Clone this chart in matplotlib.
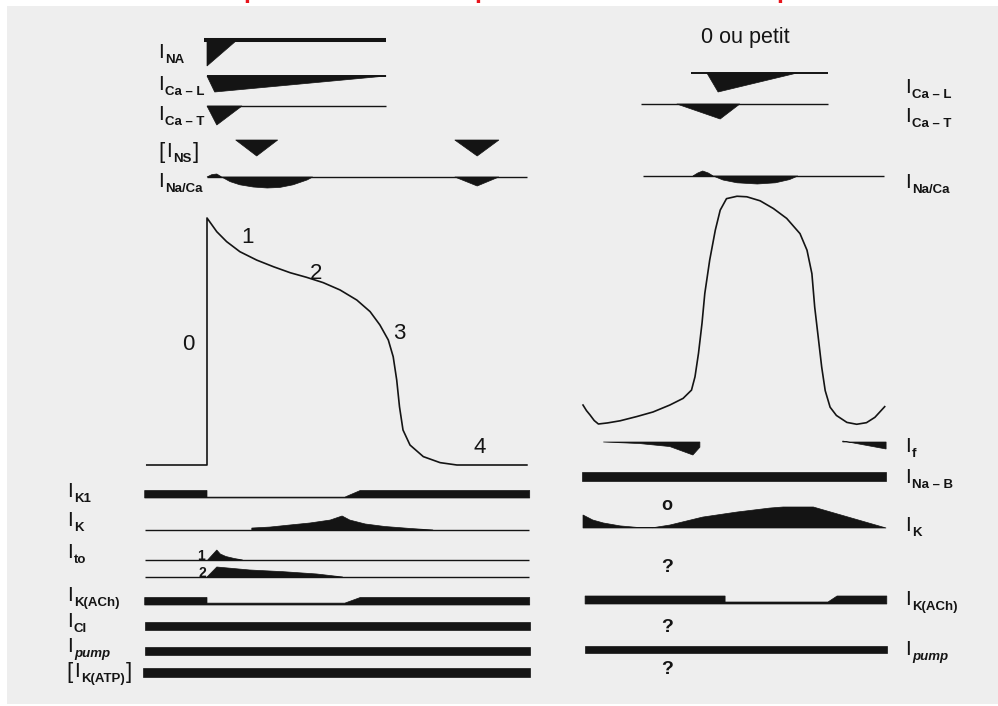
"""
Potentiels d'action ventriculaire et nodal, avec les courants ioniques associés.
"""

import numpy as np
import matplotlib
matplotlib.use('Agg')
import matplotlib.pyplot as plt
from matplotlib.patches import Rectangle

plt.rcParams['font.family'] = ['Liberation Sans', 'DejaVu Sans']

INK = '#141414'

# --- potentiel d'action ventriculaire (ms, mV) ---
va_t = [-86, 0, 0, 14, 28, 47, 71, 95, 119, 142, 166, 190, 214, 233, 247, 259,
        266, 271, 275, 280, 290, 309, 333, 357, 457]
va_v = [-85, -85, 30, 23.6, 19.0, 14.3, 10.4, 7.3, 4.5, 2.4, -0.1, -3.5, -8.2,
        -13.6, -19.8, -26.8, -34.6, -45.4, -57.9, -68.7, -75.7, -81.1, -83.9, -85, -85]
phases = ['0', '1', '2', '3', '4']
phase_t = [-26, 58, 156, 274, 390]
phase_v = [-29, 21, 4, -24, -77]

# --- potentiel d'action nodal (ms, mV) ---
sa_t = [0, 5, 10, 16, 22, 35, 53, 77, 100, 124, 143, 155, 160, 165, 170, 174, 181,
        189, 196, 205, 220, 234, 253, 272, 291, 310, 320, 327, 331, 336, 341, 346,
        353, 362, 377, 391, 405, 417, 431]
sa_v = [-57.9, -60, -61.6, -63.7, -65, -64.6, -63.8, -62.2, -60.5, -57.9, -55.4,
        -52.3, -47.3, -38.5, -27.3, -16.1, -3.6, 7.6, 15.1, 19.4, 20.3, 20.1, 18.6,
        15.7, 12, 6.3, 0.1, -8.7, -21.2, -32.4, -43.7, -52.5, -58.7, -61.8, -64.4,
        -65.1, -64.5, -62.5, -58.5]

# --- courants, cellule ventriculaire (ms, amplitude relative) ---
na_t, na_amp = [0, 0, 43], [0, -1, 0]
cal_t, cal_amp = [0, 11, 256], [0, -1, 0]
cat_t, cat_amp = [0, 14, 50], [0, -1, 0]
ns1_t, ns2_t, ns_amp = [41, 71, 101], [354, 386, 417], [0, -1, 0]
naca_bump_t, naca_bump_amp = [0, 7, 14, 21], [0, 0.8, 1, 0]
naca_arc_t = [21, 33, 47, 66, 86, 104, 123, 143, 151]
naca_arc_amp = [0, -0.42, -0.71, -0.91, -1, -0.95, -0.71, -0.27, 0]
naca2_t, naca2_amp = [354, 386, 417], [0, -1, 0]

k1_t, k1_amp = [-89, 0, 0, 197, 219, 461], [1, 1, 0.12, 0.12, 1, 1]
ik_t = [64, 64, 90, 119, 147, 176, 193, 204, 226, 254, 290, 323]
ik_amp = [0, 0.14, 0.21, 0.36, 0.5, 0.71, 1, 0.71, 0.43, 0.25, 0.11, 0]
to1_t, to1_amp = [1, 14, 19, 27, 39, 51], [0, 1, 0.6, 0.35, 0.15, 0]
to2_t, to2_amp = [0, 14, 61, 109, 157, 194], [0, 1, 0.7, 0.53, 0.3, 0]
kach_t, kach_amp = [-89, 0, 0, 197, 219, 461], [1, 1, 0.25, 0.25, 1, 1]
cl_t, cl_amp = [-89, 461], [1, 1]
pump_t, pump_amp = [-89, 461], [1, 1]
katp_t, katp_amp = [-92, 461], [1, 1]

# --- courants, cellule nodale ---
cal_r_t, cal_r_amp = [177, 193, 306], [0, -1, 0]
cat_r_t, cat_r_amp = [134, 196, 224], [0, -1, 0]
naca_r_bump_t, naca_r_bump_amp = [157, 164, 171, 179, 186], [0, 0.6, 1, 0.6, 0]
naca_r_arc_t = [186, 200, 220, 249, 275, 295, 307]
naca_r_arc_amp = [0, -0.5, -0.85, -1, -0.85, -0.45, 0]
if1_t, if1_amp = [29, 81, 124, 157, 167, 167], [0, -0.12, -0.35, -1, -0.4, 0]
if2_t, if2_amp = [371, 433, 433], [0.125, -0.875, 0]
nab_t, nab_amp = [-1, 433], [1, 1]
ik_r_t = [0, 14, 29, 53, 77, 100, 124, 171, 220, 267, 286, 329, 433]
ik_r_amp = [0.62, 0.38, 0.24, 0.1, 0.03, 0.015, 0.14, 0.52, 0.76, 0.95, 1, 1, 0]
kach_r_t, kach_r_amp = [3, 203, 203, 350, 363, 434], [1, 1, 0.25, 0.25, 1, 1]
pump_r_t, pump_r_amp = [3, 434], [1, 1]

# échelles des deux panneaux (ms -> px, mV -> px)
LEFT = dict(x0=207, k=0.7, v_ref=-85, v_y0=465, v_k=2.148)
RIGHT = dict(x0=583, k=0.7, v_ref=-65, v_y0=424, v_k=2.67)


def px(panel, t):
    return panel['x0'] + panel['k'] * np.asarray(t, float)


def vy(panel, v):
    return panel['v_y0'] - (np.asarray(v, float) - panel['v_ref']) * panel['v_k']


fig = plt.figure(figsize=(9.98, 7.06), dpi=100)
ax = fig.add_axes([0, 0, 1, 1])
ax.set_xlim(0, 998)
ax.set_ylim(706, 0)
ax.axis('off')
ax.add_patch(Rectangle((7, 6), 991, 698, fc='#eeeeee', ec='none', zorder=0))
renderer = fig.canvas.get_renderer()


def current(panel, t, amp, row, scale):
    x = px(panel, t)
    y = row - np.asarray(amp, float) * scale
    ax.fill(np.r_[x, x[-1], x[0]], np.r_[y, row, row], fc=INK, ec=INK,
            lw=0.5, zorder=3)


def baseline(panel, t0, t1, row, lw=1.0):
    ax.plot(px(panel, [t0, t1]), [row, row], color=INK, lw=lw,
            solid_capstyle='butt', zorder=2)


def label(x, y, sub, italic=False, bracket=False):
    xi = x
    if bracket:
        ax.text(x, y + 1, '[', fontsize=16, va='baseline', color=INK)
        xi = x + 8
    ax.text(xi, y, 'I', fontsize=15, va='baseline', color=INK)
    s = ax.annotate(sub, (xi, y), xytext=(5, -3.6), textcoords='offset points',
                    fontsize=9.5, fontweight='bold', va='baseline', color=INK,
                    style='italic' if italic else 'normal')
    if bracket:
        bb = s.get_window_extent(renderer)
        x_end = ax.transData.inverted().transform((bb.x1, bb.y0))[0]
        ax.text(x_end + 1, y + 1, ']', fontsize=16, va='baseline', color=INK)


# traces de potentiel
ax.plot(px(LEFT, va_t), vy(LEFT, va_v), color=INK, lw=1.2, zorder=3)
ax.plot(px(RIGHT, sa_t), vy(RIGHT, sa_v), color=INK, lw=1.2, zorder=3)
for s, t, v in zip(phases, phase_t, phase_v):
    ax.text(px(LEFT, t), vy(LEFT, v), s, fontsize=16, ha='center', va='center', color=INK)

# panneau gauche, haut
baseline(LEFT, -4, 256, 40, lw=2.9)
current(LEFT, na_t, na_amp, 40, 26)
baseline(LEFT, 0, 256, 76, lw=1.4)
current(LEFT, cal_t, cal_amp, 76, 16)
baseline(LEFT, 0, 256, 106)
current(LEFT, cat_t, cat_amp, 106, 19)
current(LEFT, ns1_t, ns_amp, 140, 16)
current(LEFT, ns2_t, ns_amp, 140, 16)
baseline(LEFT, 0, 457, 177)
current(LEFT, naca_bump_t, naca_bump_amp, 177, 3)
current(LEFT, naca_arc_t, naca_arc_amp, 177, 11)
current(LEFT, naca2_t, naca2_amp, 177, 9)

# panneau gauche, bas
current(LEFT, k1_t, k1_amp, 498, 7.5)
baseline(LEFT, -89, 460, 530)
current(LEFT, ik_t, ik_amp, 530, 14)
baseline(LEFT, -89, 460, 560)
current(LEFT, to1_t, to1_amp, 560, 10)
baseline(LEFT, -89, 460, 577)
current(LEFT, to2_t, to2_amp, 577, 10)
ax.text(205, 560, '1', fontsize=10, fontweight='bold', ha='right', va='baseline', color=INK)
ax.text(206, 577, '2', fontsize=10, fontweight='bold', ha='right', va='baseline', color=INK)
current(LEFT, kach_t, kach_amp, 605, 7.5)
current(LEFT, cl_t, cl_amp, 630, 8)
current(LEFT, pump_t, pump_amp, 655, 8)
current(LEFT, katp_t, katp_amp, 677, 9)

# panneau droit
baseline(RIGHT, 154, 350, 73, lw=1.4)
current(RIGHT, cal_r_t, cal_r_amp, 73, 19)
baseline(RIGHT, 83, 350, 104)
current(RIGHT, cat_r_t, cat_r_amp, 104, 15)
baseline(RIGHT, 86, 430, 176)
current(RIGHT, naca_r_bump_t, naca_r_bump_amp, 176, 5)
current(RIGHT, naca_r_arc_t, naca_r_arc_amp, 176, 8)
current(RIGHT, if1_t, if1_amp, 442, 13)
current(RIGHT, if2_t, if2_amp, 442, 8)
current(RIGHT, nab_t, nab_amp, 481, 9)
current(RIGHT, ik_r_t, ik_r_amp, 528, 21)
current(RIGHT, kach_r_t, kach_r_amp, 604, 8)
current(RIGHT, pump_r_t, pump_r_amp, 653, 7)

ax.text(745, 37, '0 ou petit', fontsize=15.5, ha='center', va='center', color=INK)
ax.text(667, 506, 'o', fontsize=13, fontweight='bold', ha='center', va='center', color=INK)
for yq in (567, 627, 670):
    ax.text(667, yq, '?', fontsize=14, fontweight='bold', ha='center', va='center', color=INK)

# étiquettes
for sub, y, kw in [('NA', 58, {}), ('Ca – L', 90, {}), ('Ca – T', 120, {}),
                   ('NS', 157, {'bracket': True}), ('Na/Ca', 187, {})]:
    label(158, y, sub, **kw)
for sub, y, kw in [('K1', 497, {}), ('K', 526, {}), ('to', 558, {}),
                   ('K(ACh)', 601, {}), ('Cl', 627, {}), ('pump', 652, {'italic': True})]:
    label(67, y, sub, **kw)
label(66, 677, 'K(ATP)', bracket=True)
for sub, y, kw in [('Ca – L', 93, {}), ('Ca – T', 122, {}), ('Na/Ca', 188, {}),
                   ('f', 452, {}), ('Na – B', 483, {}), ('K', 531, {}),
                   ('K(ACh)', 605, {}), ('pump', 655, {'italic': True})]:
    label(905, y, sub, **kw)

# restes du titre rouge, coupé au bord supérieur de l'image
for xr in (251, 482, 784):
    ax.text(xr, -2, 'p', fontsize=18, fontweight='bold', color='#e8141c',
            ha='center', va='baseline', clip_on=False)

fig.savefig('out.png', dpi=100, facecolor='white')
